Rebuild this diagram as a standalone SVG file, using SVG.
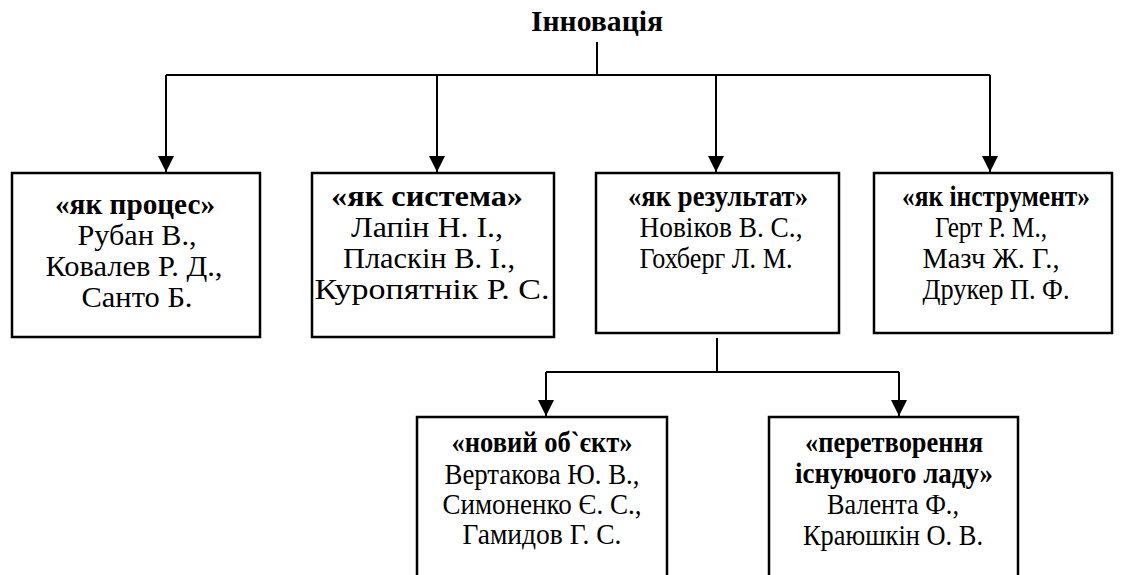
<svg xmlns="http://www.w3.org/2000/svg" width="1126" height="575" viewBox="0 0 1126 575">
<style>
text{font-family:"Liberation Serif","Times New Roman",serif;font-size:29px;fill:#000;text-anchor:middle}
.b{font-weight:bold}
.box{fill:#fff;stroke:#000;stroke-width:2.5}
.ln{fill:none;stroke:#000;stroke-width:2}
</style>
<defs>
<marker id="ah" markerUnits="userSpaceOnUse" markerWidth="16" markerHeight="16" viewBox="0 0 16 16" refX="16" refY="8" orient="auto">
<path d="M0,0 L16,8 L0,16 Z" fill="#000"/>
</marker>
</defs>
<g id="title"><text class="b" x="597" y="31" textLength="132" lengthAdjust="spacingAndGlyphs">Інновація</text></g>
<g id="connectors">
<path class="ln" d="M597,42 V75"/>
<path class="ln" d="M166,75 H990"/>
<path class="ln" d="M166,75 V172" marker-end="url(#ah)"/>
<path class="ln" d="M437,75 V172" marker-end="url(#ah)"/>
<path class="ln" d="M716,75 V172" marker-end="url(#ah)"/>
<path class="ln" d="M990,75 V172" marker-end="url(#ah)"/>
<path class="ln" d="M717,338 V372"/>
<path class="ln" d="M546,372 H899"/>
<path class="ln" d="M546,372 V416" marker-end="url(#ah)"/>
<path class="ln" d="M899,372 V416" marker-end="url(#ah)"/>
</g>
<g id="n1"><rect class="box" x="12" y="173" width="248" height="164"/>
<text class="b" x="135" y="214" textLength="160" lengthAdjust="spacingAndGlyphs">«як процес»</text>
<text x="137" y="245" textLength="119" lengthAdjust="spacingAndGlyphs">Рубан В.,</text>
<text x="134" y="276" textLength="177" lengthAdjust="spacingAndGlyphs">Ковалев Р. Д.,</text>
<text x="137" y="307" textLength="111" lengthAdjust="spacingAndGlyphs">Санто Б.</text></g>
<g id="n2"><rect class="box" x="312" y="173" width="242" height="164"/>
<text class="b" x="427" y="206" textLength="192" lengthAdjust="spacingAndGlyphs">«як система»</text>
<text x="427" y="237" textLength="152" lengthAdjust="spacingAndGlyphs">Лапін Н. І.,</text>
<text x="429" y="268" textLength="172" lengthAdjust="spacingAndGlyphs">Пласкін В. І.,</text>
<text x="432" y="299" textLength="235" lengthAdjust="spacingAndGlyphs">Куропятнік Р. С.</text></g>
<g id="n3"><rect class="box" x="596" y="173" width="243" height="160"/>
<text class="b" x="718" y="206" textLength="180" lengthAdjust="spacingAndGlyphs">«як результат»</text>
<text x="721" y="237" textLength="163" lengthAdjust="spacingAndGlyphs">Новіков В. С.,</text>
<text x="716" y="268" textLength="153" lengthAdjust="spacingAndGlyphs">Гохберг Л. М.</text></g>
<g id="n4"><rect class="box" x="874" y="173" width="238" height="160"/>
<text class="b" x="996" y="206" textLength="188" lengthAdjust="spacingAndGlyphs">«як інструмент»</text>
<text x="991" y="237" textLength="112" lengthAdjust="spacingAndGlyphs">Герт Р. М.,</text>
<text x="991" y="268" textLength="137" lengthAdjust="spacingAndGlyphs">Мазч Ж. Г.,</text>
<text x="996" y="299" textLength="147" lengthAdjust="spacingAndGlyphs">Друкер П. Ф.</text></g>
<g id="n5"><rect class="box" x="417" y="417" width="250" height="175"/>
<text class="b" x="542" y="452" textLength="181" lengthAdjust="spacingAndGlyphs">«новий об`єкт»</text>
<text x="542" y="484" textLength="195" lengthAdjust="spacingAndGlyphs">Вертакова Ю. В.,</text>
<text x="542" y="514" textLength="199" lengthAdjust="spacingAndGlyphs">Симоненко Є. С.,</text>
<text x="542" y="544" textLength="159" lengthAdjust="spacingAndGlyphs">Гамидов Г. С.</text></g>
<g id="n6"><rect class="box" x="769" y="417" width="249" height="175"/>
<text class="b" x="894" y="452" textLength="178" lengthAdjust="spacingAndGlyphs">«перетворення</text>
<text class="b" x="894" y="483" textLength="198" lengthAdjust="spacingAndGlyphs">існуючого ладу»</text>
<text x="893" y="514" textLength="132" lengthAdjust="spacingAndGlyphs">Валента Ф.,</text>
<text x="893" y="545" textLength="180" lengthAdjust="spacingAndGlyphs">Краюшкін О. В.</text></g>
</svg>
